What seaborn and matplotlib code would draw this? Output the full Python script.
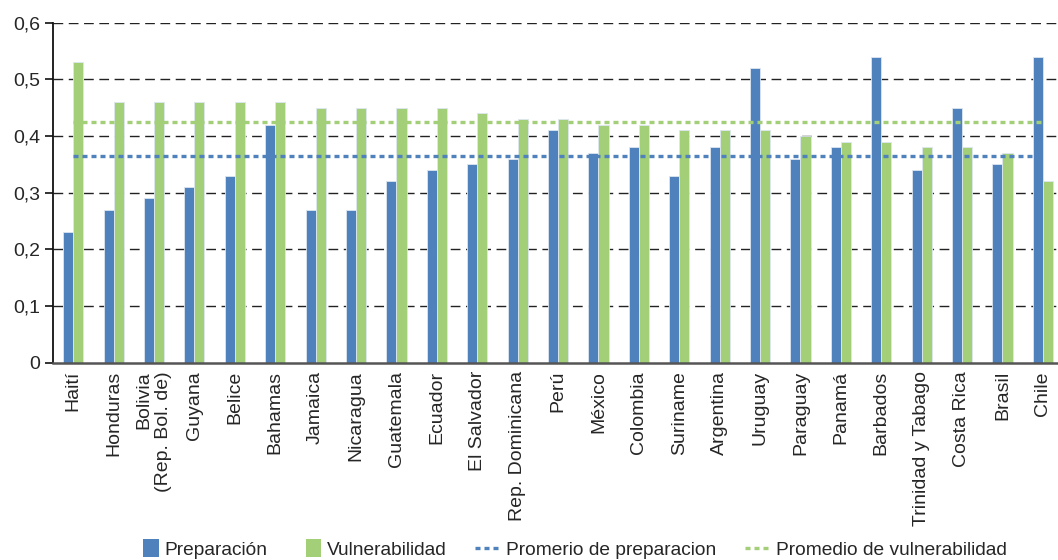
import matplotlib
matplotlib.use("Agg")
import matplotlib.pyplot as plt
from matplotlib.lines import Line2D
from matplotlib.patches import Rectangle
from matplotlib.legend_handler import HandlerBase
import seaborn as sns
import pandas as pd

# Country indicators: preparedness vs. vulnerability
paises = ["Haití", "Honduras", "Bolivia\n(Rep. Bol. de)", "Guyana", "Belice", "Bahamas",
          "Jamaica", "Nicaragua", "Guatemala", "Ecuador", "El Salvador", "Rep. Dominicana",
          "Perú", "México", "Colombia", "Suriname", "Argentina", "Uruguay", "Paraguay",
          "Panamá", "Barbados", "Trinidad y Tabago", "Costa Rica", "Brasil", "Chile"]
preparacion = [0.23, 0.27, 0.29, 0.31, 0.33, 0.42, 0.27, 0.27, 0.32, 0.34, 0.35, 0.36,
               0.41, 0.37, 0.38, 0.33, 0.38, 0.52, 0.36, 0.38, 0.54, 0.34, 0.45, 0.35, 0.54]
vulnerabilidad = [0.53, 0.46, 0.46, 0.46, 0.46, 0.46, 0.45, 0.45, 0.45, 0.45, 0.44, 0.43,
                  0.43, 0.42, 0.42, 0.41, 0.41, 0.41, 0.40, 0.39, 0.39, 0.38, 0.38, 0.37, 0.32]
promedio_preparacion = 0.365
promedio_vulnerabilidad = 0.425
yticks = [0, 0.1, 0.2, 0.3, 0.4, 0.5, 0.6]
ytick_labels = ["0", "0,1", "0,2", "0,3", "0,4", "0,5", "0,6"]
series = ["Preparación", "Vulnerabilidad"]
serie_lineas = ["Promerio de preparacion", "Promedio de vulnerabilidad"]

AZUL = "#4F81BD"
VERDE = "#A2CF77"
DASH = (0, (1.5, 1.2))

sns.set_theme(style="white")
plt.rcParams["font.family"] = ["Liberation Sans", "DejaVu Sans"]
FS = 14
FS_LEG = 13.8

df = pd.DataFrame({
    "pais": paises * 2,
    "valor": preparacion + vulnerabilidad,
    "serie": [series[0]] * len(paises) + [series[1]] * len(paises),
})

fig = plt.figure(figsize=(10.58, 5.6), dpi=100)
ax = fig.add_axes([53 / 1058, 1 - 362.7 / 560, 1010 / 1058, 340 / 560])

# dashed horizontal grid
for v in yticks[1:]:
    ax.axhline(v, color="#222222", lw=1.0, ls=(0, (7, 4)), zorder=0)

sns.barplot(data=df, x="pais", y="valor", hue="serie", order=paises,
            palette=[AZUL, VERDE], saturation=1, width=0.5, gap=0, legend=False, ax=ax,
            edgecolor="#dce6f0", linewidth=0.6, zorder=2)

n = len(paises)
ax.plot([0, n - 1], [promedio_preparacion] * 2, color=AZUL, lw=2.4, ls=DASH, zorder=3)
ax.plot([0, n - 1], [promedio_vulnerabilidad] * 2, color=VERDE, lw=2.4, ls=DASH, zorder=3)

ax.set_xlim(-0.5, n - 0.5)
ax.set_ylim(0, 0.6)
ax.set_yticks(yticks)
ax.set_yticklabels(ytick_labels, fontsize=FS)
ax.set_xticks(range(n))
ax.set_xticklabels(paises, rotation=90, fontsize=FS, ha="center", va="top",
                   multialignment="right")
ax.set_xticks([i - 0.5 for i in range(n + 1)], minor=True)
ax.tick_params(axis="x", which="major", length=0, pad=6)
ax.tick_params(axis="x", which="minor", length=6, width=1.2, color="#444444", direction="out")
ax.tick_params(axis="y", length=6, width=1.2, color="#111111", direction="out", pad=3,
               left=True)
ax.set_xlabel("")
ax.set_ylabel("")

for s in ["top", "right"]:
    ax.spines[s].set_visible(False)
ax.spines["left"].set_color("#111111")
ax.spines["left"].set_linewidth(1.3)
ax.spines["bottom"].set_color("#555555")
ax.spines["bottom"].set_linewidth(1.8)


class SquareHandler(HandlerBase):
    """Small upright swatch placed against the label."""
    def create_artists(self, legend, orig_handle, xdescent, ydescent, width, height,
                       fontsize, trans):
        side_w = fontsize * 0.8
        side_h = fontsize * 0.97
        x0 = width - side_w - xdescent
        y0 = height / 2 - side_h / 2 - ydescent
        r = Rectangle((x0, y0), side_w, side_h, facecolor=orig_handle.get_facecolor(),
                      edgecolor="none", transform=trans)
        return [r]


handles = [
    Rectangle((0, 0), 1, 1, facecolor=AZUL),
    Rectangle((0, 0), 1, 1, facecolor=VERDE),
    Line2D([], [], color=AZUL, lw=2.4, ls=DASH),
    Line2D([], [], color=VERDE, lw=2.4, ls=DASH),
]
fig.legend(handles, series + serie_lineas, loc="center", bbox_to_anchor=(0.539, 0.018),
           ncol=4, frameon=False, fontsize=FS_LEG, handlelength=1.3, handletextpad=0.3,
           columnspacing=1.5, borderaxespad=0,
           handler_map={Rectangle: SquareHandler()})

fig.savefig("out.png", dpi=100)
